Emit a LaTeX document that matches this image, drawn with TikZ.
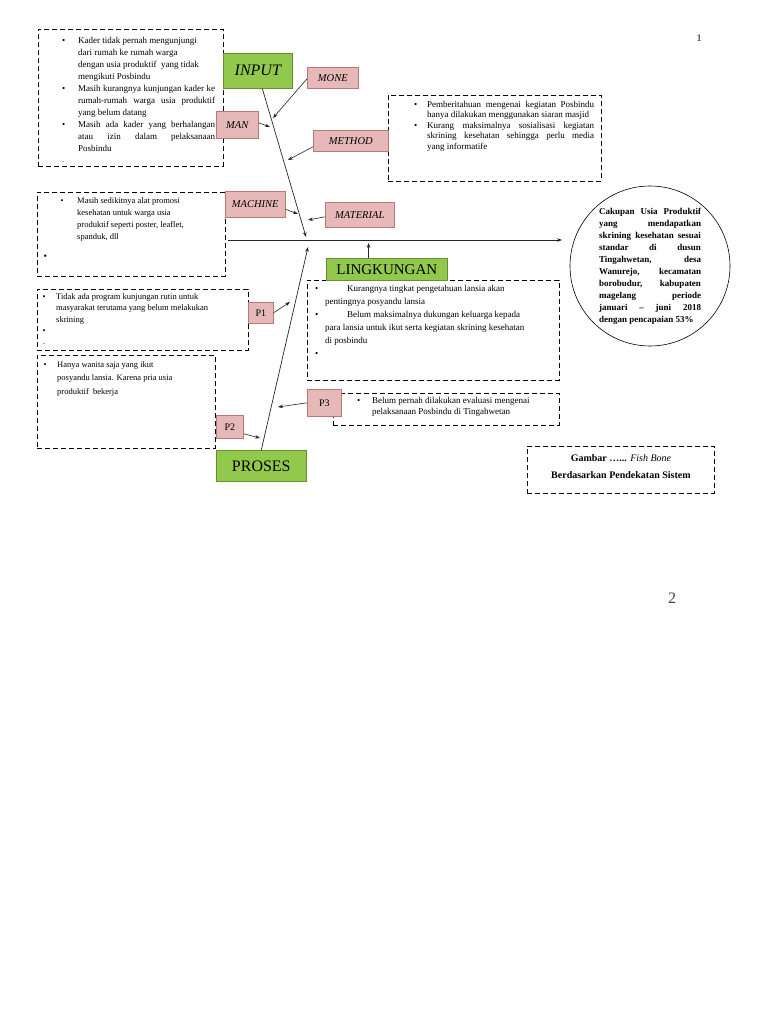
\documentclass[tikz,border=0pt]{standalone}
\usepackage{fontspec}
\setmainfont{Liberation Serif}
\usetikzlibrary{arrows.meta,calc}
\definecolor{gfill}{RGB}{146,200,76}
\definecolor{gdraw}{RGB}{100,145,50}
\definecolor{pfill}{RGB}{230,184,183}
\definecolor{pdraw}{RGB}{185,120,118}
\newcommand{\bul}[1][12pt]{\llap{\textbullet\hspace{#1}}}
\newcommand{\jl}[2]{\makebox[#1][s]{#2}}
\newcommand{\fsz}[2]{\fontsize{#1}{#2}\selectfont}
\begin{document}
\begin{tikzpicture}[x=1pt,y=-1pt,
  dbox/.style={draw, line width=0.9pt, dash pattern=on 5pt off 3pt, inner sep=0pt, anchor=north west},
  gbox/.style={draw=gdraw, fill=gfill, line width=0.6pt, inner sep=0pt, anchor=north west},
  pbox/.style={draw=pdraw, fill=pfill, line width=0.6pt, inner sep=0pt, anchor=north west, font=\fsz{10.5}{12}\itshape},
  txt/.style={anchor=north west, inner sep=0pt, align=left},
  bone/.style={line width=0.7pt, draw=black!85},
  arr/.style={line width=0.6pt, draw=black!85, -{Stealth[length=5pt,width=3.6pt]}},
]
\useasboundingbox[fill=white] (0,0) rectangle (768,1024);

% dashed boxes
\node[dbox, minimum width=185pt, minimum height=137pt] (b1) at (38,29) {};
\node[dbox, minimum width=213pt, minimum height=86pt] (bmeth) at (388,95) {};
\node[dbox, minimum width=188pt, minimum height=84pt] (bmach) at (37,192) {};
\node[dbox, minimum width=211pt, minimum height=61pt] (bp1) at (37,289) {};
\node[dbox, minimum width=178pt, minimum height=93pt] (bp2) at (37,355) {};
\node[dbox, minimum width=252pt, minimum height=100pt] (bling) at (307,280) {};
\node[dbox, minimum width=226pt, minimum height=32pt] (bp3) at (333,393) {};
\node[dbox, minimum width=187pt, minimum height=47pt] (bcap) at (527,446) {};

% texts in boxes
\node[txt, font=\fsz{9}{12}] (t1) at (78,37) {%
\bul[13pt]Kader tidak pernah mengunjungi\\
dari rumah ke rumah warga\\
dengan usia produktif\ \ yang tidak\\
mengikuti Posbindu\\
\bul[13pt]\jl{137pt}{Masih kurangnya kunjungan kader ke}\\
\jl{137pt}{rumah-rumah warga usia produktif}\\
yang belum datang\\
\bul[13pt]\jl{137pt}{Masih ada kader yang berhalangan}\\
\jl{137pt}{atau izin dalam pelaksanaan}\\
Posbindu\\
\llap{{\fsz{6}{6}-}\hspace{14pt}}\strut};

\node[txt, font=\fsz{9}{10.5}] (tmeth) at (427,101) {%
\bul[10pt]\jl{167pt}{Pemberitahuan mengenai kegiatan Posbindu}\\
hanya dilakukan menggunakan siaran masjid\\
\bul[10pt]\jl{167pt}{Kurang maksimalnya sosialisasi kegiatan}\\
\jl{167pt}{skrining kesehatan sehingga perlu media}\\
yang informatife};

\node[txt, font=\fsz{8.5}{12}] (tmach) at (77,197) {%
\bul[13.5pt]Masih sedikitnya alat promosi\\
kesehatan untuk warga usia\\
produktif seperti poster, leaflet,\\
spanduk, dll\\[8pt]
\llap{{\fsz{10}{12}\textbullet}\hspace{30pt}}\strut};

\node[txt, font=\fsz{8.5}{11.5}] (tp1) at (56,293) {%
\bul[10.5pt]Tidak ada program kunjungan rutin untuk\\
masyarakat terutama yang belum melakukan\\
skrining\\
\bul[10.5pt]\strut\\
\llap{{\fsz{6}{6}-}\hspace{11pt}}\strut};

\node[txt, font=\fsz{8.5}{13.5}] (tp2) at (57,361) {%
\bul[10.5pt]Hanya wanita saja yang ikut\\
posyandu lansia. Karena pria usia\\
produktif\ \ bekerja};

\node[txt, font=\fsz{9}{13}] (tling) at (325,285) {%
\bul[7pt]\hspace*{22pt}Kurangnya tingkat pengetahuan lansia akan\\
pentingnya posyandu lansia\\
\bul[7pt]\hspace*{22pt}Belum maksimalnya dukungan keluarga kepada\\
para lansia untuk ikut serta kegiatan skrining kesehatan\\
di posbindu\\
\bul[7pt]\strut};

\node[txt, font=\fsz{9}{11.5}] (tp3) at (372,397) {%
\bul[12pt]Belum pernah dilakukan evaluasi mengenai\\
pelaksanaan Posbindu di Tingahwetan};

\node[align=center, inner sep=0pt, font=\fsz{10}{17}] (tcap) at ([yshift=3pt]bcap.center) {%
\textbf{Gambar …...} \textit{Fish Bone}\\
\textbf{Berdasarkan Pendekatan Sistem}};

% result circle
\node[draw, circle, line width=0.6pt, minimum size=160pt, inner sep=0pt,
      align=left, font=\fsz{9}{12}\bfseries] (circ) at (650,266) {%
\jl{102pt}{Cakupan Usia Produktif}\\
\jl{102pt}{yang mendapatkan}\\
\jl{102pt}{skrining kesehatan sesuai}\\
\jl{102pt}{standar di dusun}\\
\jl{102pt}{Tingahwetan, desa}\\
\jl{102pt}{Wanurejo, kecamatan}\\
\jl{102pt}{borobudur, kabupaten}\\
\jl{102pt}{magelang periode}\\
\jl{102pt}{januari – juni 2018}\\
\makebox[102pt][l]{dengan pencapaian 53\%}};

% category labels
\node[gbox, minimum width=69pt, minimum height=35pt, font=\fsz{16}{18}\itshape] (input) at (223,53) {INPUT};
\node[gbox, minimum width=121pt, minimum height=22pt, font=\fsz{15}{17}] (ling) at (326,258) {LINGKUNGAN};
\node[gbox, minimum width=90pt, minimum height=31pt, font=\fsz{16}{18}] (proses) at (216,450) {PROSES};

\node[pbox, minimum width=51pt, minimum height=21pt] (mone) at (307,67) {MONE};
\node[pbox, minimum width=42pt, minimum height=27pt] (man) at (216,111) {MAN};
\node[pbox, minimum width=75pt, minimum height=21pt] (method) at (313,130) {METHOD};
\node[pbox, minimum width=60pt, minimum height=26pt] (machine) at (225,191) {MACHINE};
\node[pbox, minimum width=69pt, minimum height=25pt] (material) at (325,202) {MATERIAL};
\node[pbox, minimum width=25pt, minimum height=21pt, font=\fsz{10}{12}] (p1) at (248,302) {P1};
\node[pbox, minimum width=27pt, minimum height=23pt, font=\fsz{10}{12}] (p2) at (216,415) {P2};
\node[pbox, minimum width=34pt, minimum height=27pt, font=\fsz{10}{12}] (p3) at (307,389) {P3};

% spine and bones
\coordinate (sp0) at (228,240);
\coordinate (sp1) at (562,240);
\draw[arr, line width=0.7pt] (sp0) -- (sp1);
\coordinate (ubs) at ($(input.south west)!0.565!(input.south east)$);
\coordinate (ubt) at (306,237);
\draw[arr, line width=0.7pt] (ubs) -- (ubt);
\coordinate (lbt) at (308,247);
\draw[arr, line width=0.7pt] (proses.north) -- (lbt);
\coordinate (lgs) at ($(ling.north west)!0.35!(ling.north east)$);
\coordinate (lgt) at (lgs |- 0,243);
\draw[arr] (lgs) -- (lgt);

% cause arrows
\coordinate (amone) at (273,118);
\coordinate (aman) at (270,127);
\coordinate (ameth) at (288,160);
\coordinate (amach) at (298,214);
\coordinate (amat) at (308,220);
\coordinate (ap1) at (290,302);
\coordinate (ap2) at (260,438);
\coordinate (ap3) at (278,407);
\draw[arr] ([yshift=-1pt]mone.west) -- (amone);
\draw[arr] ([yshift=2pt]man.east) -- (aman);
\draw[arr] ([yshift=-6pt]method.west) -- (ameth);
\draw[arr] ([yshift=-5pt]machine.east) -- (amach);
\draw[arr] ([yshift=-2pt]material.west) -- (amat);
\draw[arr] (p1.east) -- (ap1);
\draw[arr] ([yshift=-7pt]p2.east) -- (ap2);
\draw[arr] (p3.west) -- (ap3);

% page numbers
\node[inner sep=0pt, font=\fsz{10}{12}] (pg1) at (699,38) {1};
\node[inner sep=0pt, font=\fsz{16}{18}, text=black!75] (pg2) at (672,598) {2};
\end{tikzpicture}
\end{document}
